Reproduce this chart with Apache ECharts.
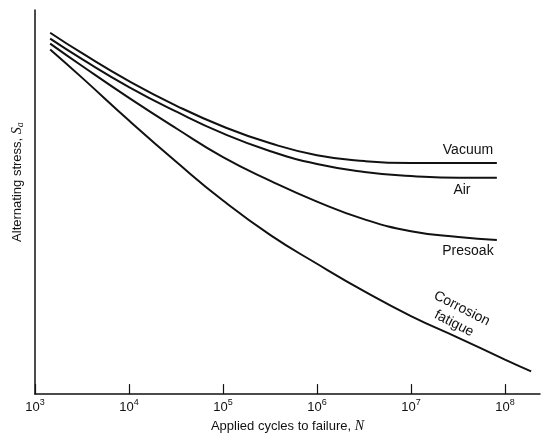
<!DOCTYPE html>
<html>
<head>
<meta charset="utf-8">
<script src="https://cdn.jsdelivr.net/npm/echarts@6/dist/echarts.min.js"></script>
<style>
html, body { margin: 0; padding: 0; background: #fff; }
#chart { width: 544px; height: 438px; }
</style>
</head>
<body>
<div id="chart"></div>
<script>
// applied cycles to failure N (log axis)
var cycles = [1450, 3200, 1e4, 3.2e4, 1e5, 3.2e5, 1e6, 3.2e6, 1e7, 3.2e7, 8.2e7];
var cyclesCorrosion = [1450, 3200, 1e4, 3.2e4, 1e5, 3.2e5, 1e6, 3.2e6, 1e7, 3.2e7, 1e8, 1.9e8];
// alternating stress, no scale on the original, arbitrary units
var vacuum = [366, 345, 317, 292, 271, 254, 242, 236, 234, 234, 234];
var air = [360, 339, 311, 286, 264, 246, 233, 225, 221, 219, 219];
var presoak = [355, 332, 300, 269, 240, 216, 195, 177, 165, 159, 156];
var corrosion = [349, 320, 277, 235, 196, 161, 132, 104, 79, 57, 35, 23];
var tickCycles = [1e3, 1e4, 1e5, 1e6, 1e7, 1e8];

var FONT = '"Liberation Sans", Arial, sans-serif';
var SERIF = '"Liberation Serif", serif';
var INK = '#111';

function pairs(xs, ys) {
  return xs.map(function (x, i) { return [x, ys[i]]; });
}

// curve name written next to the line, anchored at a data coordinate
function tagLabel(text, coord, extra) {
  var label = {
    show: true,
    position: 'inside',
    formatter: text,
    color: INK,
    fontSize: 14,
    fontFamily: FONT
  };
  for (var k in extra) label[k] = extra[k];
  return {
    symbol: 'circle',
    symbolSize: 1,
    silent: true,
    itemStyle: { color: 'transparent' },
    label: label,
    data: [{ coord: coord }]
  };
}

function curve(name, xs, ys, mark) {
  return {
    name: name,
    type: 'line',
    data: pairs(xs, ys),
    smooth: 0.5,
    showSymbol: false,
    silent: true,
    lineStyle: { color: INK, width: 2 },
    markPoint: mark
  };
}

var chart = echarts.init(document.getElementById('chart'));
chart.setOption({
  animation: false,
  backgroundColor: '#fff',
  grid: { left: 35, right: 4, top: 10, bottom: 39 },
  xAxis: {
    type: 'log',
    logBase: 10,
    min: 1000,
    max: 2.36e8,
    name: '{t|Applied cycles to failure, }{n|N}',
    nameLocation: 'middle',
    nameGap: 24,
    nameTextStyle: {
      rich: {
        t: { fontSize: 13, fontFamily: FONT, color: INK },
        n: { fontSize: 14, fontFamily: SERIF, fontStyle: 'italic', color: INK }
      }
    },
    axisLine: { lineStyle: { color: INK, width: 1.5 } },
    axisTick: { inside: true, length: 10, customValues: tickCycles, lineStyle: { color: INK, width: 1.2 } },
    axisLabel: {
      customValues: tickCycles,
      margin: 4,
      formatter: function (v) {
        return '{b|10}{s|' + Math.round(Math.log10(v)) + '}';
      },
      rich: {
        b: { fontSize: 13, fontFamily: FONT, color: INK, verticalAlign: 'bottom' },
        s: { fontSize: 9, fontFamily: FONT, color: INK, verticalAlign: 'bottom', padding: [0, 0, 7, 0] }
      }
    },
    splitLine: { show: false }
  },
  yAxis: {
    type: 'value',
    min: 0,
    max: 389,
    name: '{t|Alternating stress, }{s|S}{a|a}',
    nameLocation: 'middle',
    nameGap: 10,
    nameTextStyle: {
      padding: [0, 0, 0, 40],
      rich: {
        t: { fontSize: 13, fontFamily: FONT, color: INK },
        s: { fontSize: 14, fontFamily: SERIF, fontStyle: 'italic', color: INK },
        a: { fontSize: 10, fontFamily: SERIF, fontStyle: 'italic', color: INK, verticalAlign: 'top', padding: [6, 0, 0, 0] }
      }
    },
    axisLine: { show: true, lineStyle: { color: INK, width: 1.5 } },
    axisTick: { show: false },
    axisLabel: { show: false },
    splitLine: { show: false }
  },
  series: [
    curve('Vacuum', cycles, vacuum, tagLabel('Vacuum', [4.04e7, 247], {})),
    curve('Air', cycles, air, tagLabel('Air', [3.49e7, 207], {})),
    curve('Presoak', cycles, presoak, tagLabel('Presoak', [4.04e7, 145], {})),
    curve('Corrosion fatigue', cyclesCorrosion, corrosion,
      tagLabel('Corrosion\nfatigue', [3.16e7, 79], { rotate: -27, lineHeight: 17, align: 'center' }))
  ]
});
</script>
</body>
</html>
